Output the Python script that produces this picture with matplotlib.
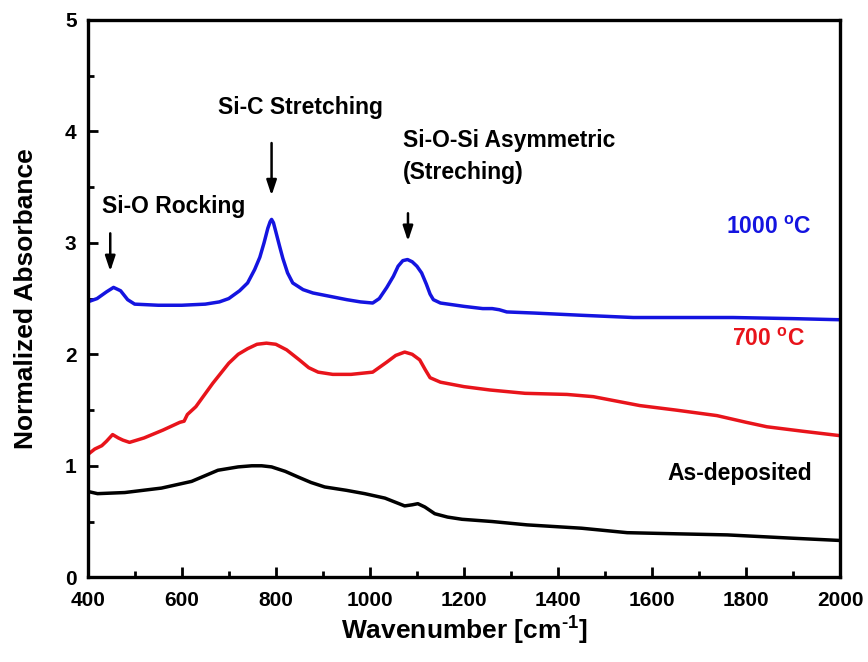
import matplotlib
matplotlib.use("Agg")
import matplotlib.pyplot as plt
from matplotlib.ticker import MultipleLocator

# FTIR spectra (wavenumber in cm^-1, normalized absorbance)
wn_1000 = [400, 420, 440, 455, 470, 485, 500, 550, 600, 650, 680, 700, 723, 740, 755, 766, 775,
           783, 788, 791, 795, 800, 808, 815, 825, 836, 858, 879, 915, 951, 980, 1006, 1020,
           1036, 1050, 1060, 1070, 1080, 1090, 1100, 1110, 1120, 1128, 1135, 1150, 1200, 1240,
           1260, 1275, 1291, 1350, 1450, 1560, 1650, 1772, 1900, 2000]
abs_1000 = [2.47, 2.50, 2.56, 2.60, 2.57, 2.49, 2.45, 2.44, 2.44, 2.45, 2.47, 2.50, 2.57, 2.64,
            2.76, 2.87, 3.00, 3.13, 3.19, 3.21, 3.18, 3.10, 2.97, 2.86, 2.73, 2.64, 2.58, 2.55,
            2.52, 2.49, 2.47, 2.46, 2.50, 2.60, 2.70, 2.79, 2.84, 2.85, 2.83, 2.79, 2.73, 2.63,
            2.54, 2.49, 2.46, 2.43, 2.41, 2.41, 2.40, 2.38, 2.37, 2.35, 2.33, 2.33, 2.33, 2.32,
            2.31]

wn_700 = [400, 415, 430, 440, 453, 465, 475, 489, 520, 560, 596, 605, 612, 630, 666, 700, 720,
          740, 760, 780, 800, 823, 850, 870, 890, 921, 960, 1006, 1036, 1055, 1074, 1090, 1106,
          1118, 1128, 1150, 1200, 1255, 1330, 1419, 1475, 1574, 1650, 1738, 1800, 1844, 1920,
          2000]
abs_700 = [1.10, 1.15, 1.18, 1.22, 1.28, 1.25, 1.23, 1.21, 1.25, 1.32, 1.39, 1.40, 1.46, 1.53,
           1.74, 1.92, 2.00, 2.05, 2.09, 2.10, 2.09, 2.04, 1.95, 1.88, 1.84, 1.82, 1.82, 1.84,
           1.93, 1.99, 2.02, 2.00, 1.95, 1.86, 1.79, 1.75, 1.71, 1.68, 1.65, 1.64, 1.62, 1.54,
           1.50, 1.45, 1.39, 1.35, 1.31, 1.27]

wn_dep = [400, 421, 479, 557, 621, 677, 720, 749, 770, 791, 820, 847, 875, 904, 950, 989, 1032,
          1074, 1090, 1102, 1117, 1138, 1165, 1196, 1260, 1334, 1450, 1547, 1650, 1760, 1900, 2000]
abs_dep = [0.77, 0.75, 0.76, 0.80, 0.86, 0.96, 0.99, 1.00, 1.00, 0.99, 0.95, 0.90, 0.85, 0.81,
           0.78, 0.75, 0.71, 0.64, 0.65, 0.66, 0.63, 0.57, 0.54, 0.52, 0.50, 0.47, 0.44, 0.40,
           0.39, 0.38, 0.35, 0.33]

plt.rcParams['font.family'] = ['Liberation Sans', 'DejaVu Sans']
plt.rcParams['font.weight'] = 'bold'
plt.rcParams['axes.labelweight'] = 'bold'
plt.rcParams['mathtext.fontset'] = 'custom'
plt.rcParams['mathtext.rm'] = 'Liberation Sans:bold'
plt.rcParams['mathtext.bf'] = 'Liberation Sans:bold'
plt.rcParams['mathtext.default'] = 'bf'

fig = plt.figure(figsize=(8.68, 6.62), dpi=100)
ax = fig.add_axes([0.101, 0.128, 0.867, 0.842])

ax.plot(wn_dep, abs_dep, color='black', lw=2.5)
ax.plot(wn_700, abs_700, color='#e8141b', lw=2.5)
ax.plot(wn_1000, abs_1000, color='#1414e0', lw=2.5)

ax.set_xlim(400, 2000)
ax.set_ylim(0, 5)
ax.xaxis.set_major_locator(MultipleLocator(200))
ax.xaxis.set_minor_locator(MultipleLocator(100))
ax.yaxis.set_major_locator(MultipleLocator(1))
ax.yaxis.set_minor_locator(MultipleLocator(0.5))
ax.tick_params(which='both', direction='in', width=2, top=False, right=False)
ax.tick_params(which='major', length=7)
ax.tick_params(which='minor', length=4)
ax.tick_params(axis='x', pad=10, labelsize=15)
ax.tick_params(axis='y', pad=8, labelsize=15)
for s in ax.spines.values():
    s.set_linewidth(2.4)

ax.set_xlabel(r'Wavenumber [cm$^{\text{-}1}$]', fontsize=19, labelpad=3)
ax.set_ylabel('Normalized Absorbance', fontsize=19, labelpad=19)

# peak annotations
txt = dict(fontsize=16.5)
ax.text(430, 3.33, 'Si-O Rocking', ha='left', va='center', **txt)
ax.text(853, 4.21, 'Si-C Stretching', ha='center', va='center', **txt)
ax.text(1070, 3.92, 'Si-O-Si Asymmetric', ha='left', va='center', **txt)
ax.text(1070, 3.63, '(Streching)', ha='left', va='center', **txt)
arrow = dict(arrowstyle='-|>,head_length=0.9,head_width=0.3', color='black', lw=1.8)
ax.annotate('', xy=(448, 2.72), xytext=(448, 3.11), arrowprops=arrow)
ax.annotate('', xy=(791, 3.40), xytext=(791, 3.92), arrowprops=arrow)
ax.annotate('', xy=(1081, 2.99), xytext=(1081, 3.29), arrowprops=arrow)

# series labels
ax.text(1940, 3.14, r'1000 $^{\mathbf{o}}$C', color='#1414e0', ha='right', va='center', **txt)
ax.text(1925, 2.13, r'700 $^{\mathbf{o}}$C', color='#e8141b', ha='right', va='center', **txt)
ax.text(1940, 0.93, 'As-deposited', color='black', ha='right', va='center', **txt)

plt.savefig("out.png", dpi=100)
